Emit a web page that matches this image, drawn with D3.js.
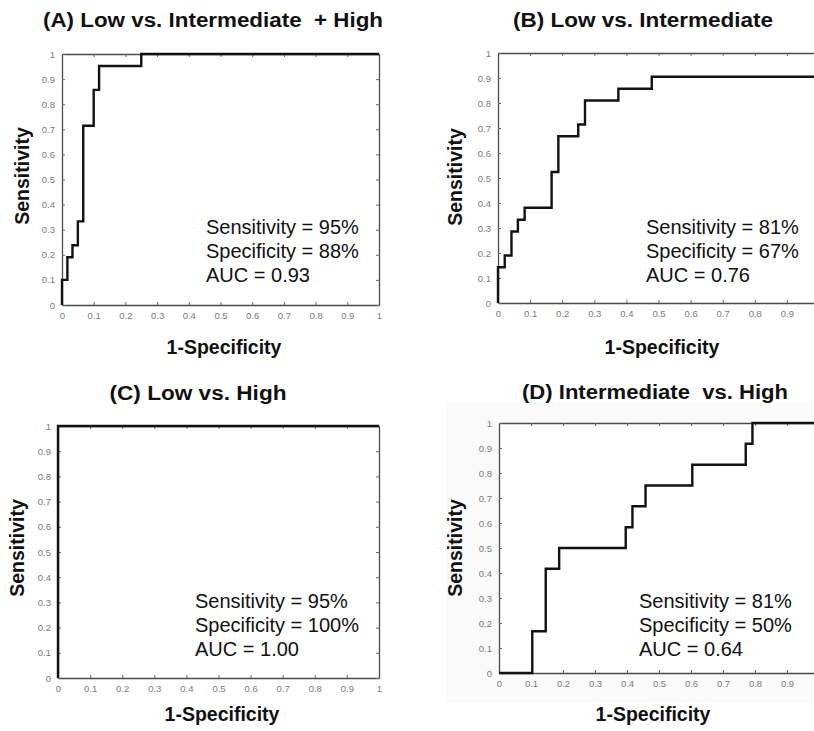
<!DOCTYPE html>
<html>
<head>
<meta charset="utf-8">
<script src="https://cdn.jsdelivr.net/npm/d3@7"></script>
<style>
  body { margin: 0; background: #fff; }
  svg { display: block; font-family: Arial, "Liberation Sans", sans-serif; }
</style>
</head>
<body>
<script>
// axis ticks shared by all four panels
var tickValues = [0, 0.1, 0.2, 0.3, 0.4, 0.5, 0.6, 0.7, 0.8, 0.9, 1];
var tickLabels = ['0', '0.1', '0.2', '0.3', '0.4', '0.5', '0.6', '0.7', '0.8', '0.9', '1'];

// ROC curves (1-specificity, sensitivity)
var fprA = [0, 0, 0.017, 0.033, 0.05, 0.067, 0.1, 0.117, 0.25, 1];
var tprA = [0, 0.1, 0.19, 0.238, 0.333, 0.714, 0.857, 0.952, 1, 1];

var fprB = [0, 0, 0.021, 0.042, 0.062, 0.083, 0.167, 0.188, 0.25, 0.271, 0.375, 0.479, 1];
var tprB = [0, 0.143, 0.19, 0.286, 0.333, 0.381, 0.524, 0.667, 0.714, 0.81, 0.857, 0.905, 0.905];

var fprC = [0, 0, 1];
var tprC = [0, 1, 1];

var fprD = [0, 0.104, 0.146, 0.188, 0.396, 0.417, 0.458, 0.604, 0.771, 0.792, 1];
var tprD = [0, 0.167, 0.417, 0.5, 0.583, 0.667, 0.75, 0.833, 0.917, 1, 1];

var titles = ['(A) Low vs. Intermediate  + High', '(B) Low vs. Intermediate', '(C) Low vs. High', '(D) Intermediate  vs. High'];
var statsA = ['Sensitivity = 95%', 'Specificity = 88%', 'AUC = 0.93'];
var statsB = ['Sensitivity = 81%', 'Specificity = 67%', 'AUC = 0.76'];
var statsC = ['Sensitivity = 95%', 'Specificity = 100%', 'AUC = 1.00'];
var statsD = ['Sensitivity = 81%', 'Specificity = 50%', 'AUC = 0.64'];

// panel geometry (pixels)
var panels = [
	{ fpr: fprA, tpr: tprA, title: titles[0], stats: statsA, left: 62, right: 379, top: 54, bottom: 305,
		titleX: 213, titleY: 27, titleW: 340, yLabX: 29, yLabY: 176, xLabX: 224, xLabY: 354, statX: 206, statY: 234 },
	{ fpr: fprB, tpr: tprB, title: titles[1], stats: statsB, left: 498, right: 819, top: 53, bottom: 303,
		titleX: 643, titleY: 27, titleW: 260, yLabX: 462, yLabY: 177, xLabX: 662, xLabY: 354, statX: 646, statY: 234 },
	{ fpr: fprC, tpr: tprC, title: titles[2], stats: statsC, left: 58, right: 379, top: 426, bottom: 678,
		titleX: 198, titleY: 400, titleW: 177, yLabX: 24, yLabY: 548, xLabX: 222, xLabY: 721, statX: 195, statY: 608 },
	{ fpr: fprD, tpr: tprD, title: titles[3], stats: statsD, left: 499, right: 819, top: 423, bottom: 673,
		titleX: 655, titleY: 399, titleW: 266, yLabX: 462, yLabY: 548, xLabX: 653, xLabY: 721, statX: 639, statY: 608 }
];

var svg = d3.select('body').append('svg')
	.attr('width', 814)
	.attr('height', 731);

// very faint grey backdrop behind panel D
svg.append('rect')
	.attr('x', 447).attr('y', 402)
	.attr('width', 367).attr('height', 301)
	.attr('fill', '#fafafa');

panels.forEach(function(p) {
	var x = d3.scaleLinear().domain([0, 1]).range([p.left, p.right]);
	var y = d3.scaleLinear().domain([0, 1]).range([p.bottom, p.top]);
	var g = svg.append('g');

	g.append('rect')
		.attr('x', p.left).attr('y', p.top)
		.attr('width', p.right - p.left).attr('height', p.bottom - p.top)
		.attr('fill', '#fff');

	// MATLAB style box with inward ticks on every side
	var axes = [
		{ axis: d3.axisBottom(x), t: 'translate(0,' + p.bottom + ')', labels: true },
		{ axis: d3.axisTop(x), t: 'translate(0,' + p.top + ')', labels: false },
		{ axis: d3.axisLeft(y), t: 'translate(' + p.left + ',0)', labels: true },
		{ axis: d3.axisRight(y), t: 'translate(' + p.right + ',0)', labels: false }
	];
	axes.forEach(function(a) {
		var ax = g.append('g')
			.attr('transform', a.t)
			.call(a.axis.tickValues(tickValues)
				.tickFormat(function(d, i) { return a.labels ? tickLabels[i] : ''; })
				.tickSizeInner(-3).tickSizeOuter(0).tickPadding(7));
		ax.select('.domain').attr('stroke', '#4a4a4a').attr('stroke-width', 1.3);
		ax.selectAll('.tick line').attr('stroke', '#666');
		ax.selectAll('.tick text')
			.attr('fill', '#7a7a7a')
			.style('font-size', '9.5px');
	});

	// ROC staircase
	var pts = p.fpr.map(function(v, i) { return [v, p.tpr[i]]; });
	g.append('path')
		.datum(pts)
		.attr('fill', 'none')
		.attr('stroke', '#111')
		.attr('stroke-width', 2.4)
		.attr('d', d3.line()
			.curve(d3.curveStepAfter)
			.x(function(d) { return x(d[0]); })
			.y(function(d) { return y(d[1]); }));

	// title
	g.append('text')
		.attr('x', p.titleX).attr('y', p.titleY)
		.attr('text-anchor', 'middle')
		.attr('textLength', p.titleW)
		.attr('lengthAdjust', 'spacingAndGlyphs')
		.style('font-size', '20px').style('font-weight', 'bold')
		.style('white-space', 'pre')
		.attr('fill', '#111')
		.text(p.title);

	// axis labels
	g.append('text')
		.attr('transform', 'translate(' + p.yLabX + ',' + p.yLabY + ') rotate(-90)')
		.attr('text-anchor', 'middle')
		.style('font-size', '19.5px').style('font-weight', 'bold')
		.attr('fill', '#111')
		.text('Sensitivity');

	g.append('text')
		.attr('x', p.xLabX).attr('y', p.xLabY)
		.attr('text-anchor', 'middle')
		.style('font-size', '19.5px').style('font-weight', 'bold')
		.attr('fill', '#111')
		.text('1-Specificity');

	// stats annotation
	g.selectAll('.stat')
		.data(p.stats)
		.enter().append('text')
		.attr('class', 'stat')
		.attr('x', p.statX)
		.attr('y', function(d, i) { return p.statY + i * 23.8; })
		.style('font-size', '20px')
		.attr('fill', '#111')
		.text(function(d) { return d; });
});
</script>
</body>
</html>
